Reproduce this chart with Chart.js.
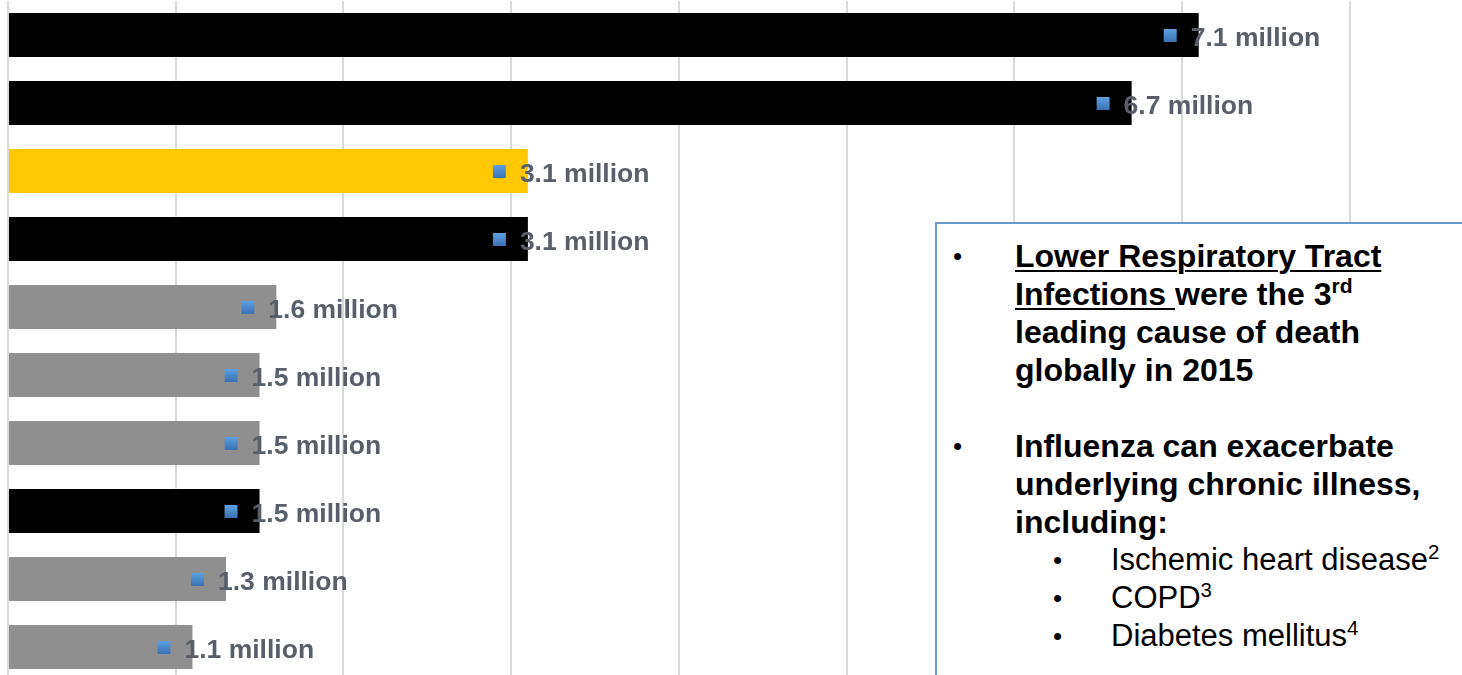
<!DOCTYPE html>
<html>
<head>
<meta charset="utf-8">
<script src="https://cdn.jsdelivr.net/npm/chart.js@4/dist/chart.umd.min.js"></script>
<style>
  html, body { margin: 0; padding: 0; background: #fff; overflow: hidden; }
  #wrap { position: absolute; left: 0; top: 0; width: 1462px; height: 681px; }
  #note {
    position: absolute; left: 935px; top: 222px; width: 600px; height: 500px;
    box-sizing: border-box; border: 2px solid #6a9ad0; background: #fff;
    padding: 13px 0 0 0;
    font-family: "Liberation Sans", Arial, sans-serif; color: #000;
    line-height: 38px; white-space: nowrap;
  }
  #note .item { position: relative; padding-left: 78px; font-size: 32px; font-weight: bold; }
  #note .item::before { content: "•"; position: absolute; left: 16px; font-size: 26px; font-weight: normal; }
  #note .sub { position: relative; padding-left: 174px; font-size: 31px; font-weight: normal; }
  #note .sub::before { content: "•"; position: absolute; left: 116px; font-size: 26px; }
  #note .gap { height: 38px; }
  #note sup { font-size: 66%; line-height: 0; vertical-align: 0.55em; }
  #note u { text-decoration-thickness: 2px; text-underline-offset: 3px; }
</style>
</head>
<body>
<div id="wrap"><canvas id="deaths-chart"></canvas></div>
<div id="note">
  <div class="item"><u>Lower Respiratory Tract<br>Infections </u>were the 3<sup>rd</sup><br>leading cause of death<br>globally in 2015</div>
  <div class="gap"></div>
  <div class="item">Influenza can exacerbate<br>underlying chronic illness,<br>including:</div>
  <div class="sub">Ischemic heart disease<sup>2</sup></div>
  <div class="sub">COPD<sup>3</sup></div>
  <div class="sub">Diabetes mellitus<sup>4</sup></div>
</div>
<script>
// deaths per cause, millions, 2015
const causes = [
  "Ischemic heart disease",
  "Stroke",
  "Lower respiratory tract infections",
  "COPD",
  "Lung cancers",
  "Alzheimer disease",
  "Diarrhoeal diseases",
  "Diabetes mellitus",
  "Tuberculosis",
  "Road injury",
];
const deaths = [7.1, 6.7, 3.1, 3.1, 1.6, 1.5, 1.5, 1.5, 1.3, 1.1];
const groups = ["chronic", "chronic", "lrti", "chronic", "other", "other", "other", "chronic", "other", "other"];

const GROUP_COLORS = {
  chronic: "#000000",
  lrti:    "#ffc800",
  other:   "#8f8f8f",
};

const AXIS_MAX = 8.67;

// value labels with a small blue key square, sitting across the bar end
const valueLabels = {
  id: "valueLabels",
  afterDatasetsDraw(chart) {
    const { ctx } = chart;
    const meta = chart.getDatasetMeta(0);
    ctx.save();
    ctx.font = "bold 26.5px 'Liberation Sans', Arial, sans-serif";
    ctx.textBaseline = "middle";
    meta.data.forEach((bar, i) => {
      const x = bar.x - 35;
      const y = bar.y;
      const g = ctx.createLinearGradient(0, y - 6, 0, y + 7);
      g.addColorStop(0, "#5ea0e0");
      g.addColorStop(1, "#3a72b4");
      ctx.fillStyle = g;
      ctx.fillRect(x, y - 6, 13, 13);
      ctx.fillStyle = "#585f69";
      ctx.fillText(`${deaths[i]} million`, x + 27, y + 4);
    });
    ctx.restore();
  },
};

const ctx = document.getElementById("deaths-chart").getContext("2d");
new Chart(ctx, {
  type: "bar",
  data: {
    labels: causes,
    datasets: [{
      label: "Deaths",
      data: deaths,
      backgroundColor: groups.map(g => GROUP_COLORS[g]),
      borderWidth: 0,
      categoryPercentage: 1,
      barPercentage: 0.647,
    }],
  },
  options: {
    indexAxis: "y",
    responsive: true,
    maintainAspectRatio: false,
    animation: false,
    layout: { padding: { left: 8, top: 1, right: 0, bottom: 0 } },
    plugins: { legend: { display: false }, tooltip: { enabled: false } },
    scales: {
      x: {
        min: 0,
        max: AXIS_MAX,
        ticks: { display: false, stepSize: 1 },
        afterBuildTicks: axis => {
          axis.ticks = axis.ticks.filter(t => Number.isInteger(t.value));
        },
        grid: { color: "#d9d9d9", lineWidth: 2, drawTicks: false },
        border: { display: false },
      },
      y: { display: false },
    },
  },
  plugins: [valueLabels],
});
</script>
</body>
</html>
